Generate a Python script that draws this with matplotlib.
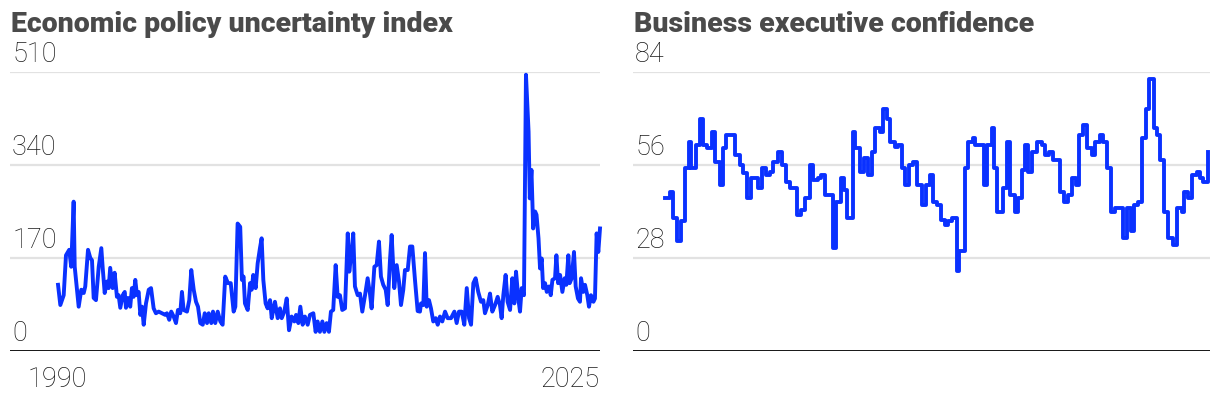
import matplotlib
matplotlib.use("Agg")
import matplotlib.pyplot as plt

# Economic policy uncertainty index (decimal year, value)
epu_years = [
    1990.07, 1990.22, 1990.44, 1990.59, 1990.80, 1990.93, 1991.09, 1991.16, 1991.31, 1991.42,
    1991.59, 1991.75, 1991.85, 1992.03, 1992.18, 1992.29, 1992.40, 1992.55, 1992.73, 1992.90,
    1992.99, 1993.12, 1993.27, 1993.38, 1993.48, 1993.64, 1993.77, 1993.92, 1994.03, 1994.14,
    1994.30, 1994.43, 1994.51, 1994.64, 1994.79, 1994.90, 1995.01, 1995.12, 1995.23, 1995.34,
    1995.45, 1995.56, 1995.67, 1995.82, 1996.00, 1996.15, 1996.32, 1996.47, 1996.65, 1996.86,
    1997.08, 1997.19, 1997.34, 1997.47, 1997.63, 1997.78, 1997.91, 1998.06, 1998.17, 1998.28,
    1998.50, 1998.65, 1998.78, 1998.94, 1999.09, 1999.22, 1999.37, 1999.53, 1999.66, 1999.81,
    1999.92, 2000.09, 2000.20, 2000.35, 2000.51, 2000.68, 2000.83, 2001.00, 2001.18, 2001.36,
    2001.55, 2001.66, 2001.81, 2001.98, 2002.09, 2002.20, 2002.29, 2002.47, 2002.62, 2002.73,
    2002.83, 2002.99, 2003.12, 2003.27, 2003.38, 2003.49, 2003.64, 2003.77, 2003.93, 2004.04,
    2004.14, 2004.25, 2004.43, 2004.58, 2004.69, 2004.86, 2005.02, 2005.17, 2005.34, 2005.52,
    2005.63, 2005.78, 2005.91, 2006.06, 2006.21, 2006.39, 2006.54, 2006.76, 2006.91, 2007.04,
    2007.19, 2007.35, 2007.48, 2007.63, 2007.78, 2007.91, 2008.06, 2008.22, 2008.35, 2008.50,
    2008.65, 2008.83, 2009.01, 2009.11, 2009.27, 2009.37, 2009.48, 2009.66, 2009.81, 2009.96,
    2010.14, 2010.31, 2010.46, 2010.57, 2010.75, 2010.90, 2011.05, 2011.18, 2011.33, 2011.49,
    2011.62, 2011.77, 2011.88, 2012.05, 2012.21, 2012.36, 2012.49, 2012.64, 2012.75, 2012.93,
    2013.08, 2013.23, 2013.41, 2013.58, 2013.73, 2013.80, 2013.95, 2014.06, 2014.17, 2014.32,
    2014.45, 2014.60, 2014.76, 2014.89, 2015.04, 2015.19, 2015.37, 2015.54, 2015.76, 2015.98,
    2016.13, 2016.28, 2016.46, 2016.63, 2016.79, 2016.94, 2017.07, 2017.22, 2017.37, 2017.54,
    2017.72, 2017.87, 2017.98, 2018.16, 2018.31, 2018.46, 2018.64, 2018.81, 2018.96, 2019.07,
    2019.18, 2019.33, 2019.46, 2019.62, 2019.77, 2019.90, 2020.01, 2020.16, 2020.27, 2020.38,
    2020.53, 2020.66, 2020.83, 2020.91, 2021.02, 2021.13, 2021.26, 2021.35, 2021.48, 2021.58,
    2021.69, 2021.78, 2021.91, 2022.02, 2022.17, 2022.28, 2022.39, 2022.56, 2022.65, 2022.76,
    2022.89, 2023.04, 2023.19, 2023.30, 2023.43, 2023.52, 2023.65, 2023.80, 2023.91, 2024.06,
    2024.19, 2024.26, 2024.41, 2024.52, 2024.67, 2024.78, 2024.91, 2025.07, 2025.17, 2025.28,
    2025.39, 2025.50,
]
epu_values = [
    121, 84, 102, 175, 185, 154, 273, 154, 112, 81,
    112, 106, 118, 185, 170, 166, 97, 93, 154, 188,
    152, 106, 127, 115, 152, 115, 143, 99, 102, 79,
    102, 108, 79, 97, 81, 115, 99, 130, 102, 108,
    66, 81, 48, 87, 112, 115, 78, 69, 72, 69,
    66, 69, 57, 72, 63, 51, 75, 69, 108, 75,
    72, 93, 148, 112, 90, 81, 51, 48, 69, 51,
    69, 51, 72, 51, 72, 54, 48, 136, 124, 124,
    72, 81, 233, 227, 130, 136, 87, 75, 124, 112,
    139, 115, 160, 188, 206, 130, 87, 78, 93, 60,
    75, 90, 60, 78, 60, 72, 96, 38, 63, 54,
    66, 51, 81, 48, 63, 48, 66, 69, 35, 54,
    35, 54, 35, 51, 35, 72, 75, 157, 99, 102,
    75, 78, 215, 145, 185, 215, 118, 102, 105, 72,
    102, 133, 105, 78, 154, 157, 200, 136, 121, 112,
    84, 166, 212, 115, 157, 127, 84, 112, 148, 148,
    191, 191, 128, 73, 72, 87, 84, 179, 81, 93,
    78, 54, 60, 48, 63, 54, 72, 60, 60, 72,
    51, 72, 72, 48, 115, 60, 48, 124, 133, 108,
    90, 93, 69, 84, 105, 72, 84, 99, 84, 60,
    102, 139, 90, 75, 133, 87, 145, 96, 72, 115,
    102, 505, 401, 279, 331, 224, 255, 249, 206, 151,
    169, 115, 124, 108, 118, 102, 130, 133, 175, 124,
    139, 108, 133, 121, 175, 124, 133, 181, 118, 96,
    90, 133, 108, 121, 102, 81, 102, 90, 96, 215,
    181, 224,
]

# Business executive confidence, step levels (start year, value)
bec_years = [
    1990.02, 1990.31, 1990.52, 1990.80, 1991.03, 1991.29, 1991.55, 1991.72, 1992.05, 1992.27,
    1992.48, 1992.77, 1993.07, 1993.29, 1993.58, 1993.79, 1994.01, 1994.56, 1994.88, 1995.10,
    1995.38, 1995.64, 1996.08, 1996.34, 1996.62, 1996.85, 1997.06, 1997.39, 1997.65, 1997.93,
    1998.15, 1998.65, 1998.91, 1999.13, 1999.46, 1999.68, 2000.00, 2000.22, 2000.44, 2000.98,
    2001.20, 2001.49, 2001.70, 2001.92, 2002.27, 2002.42, 2002.75, 2003.01, 2003.29, 2003.51,
    2003.73, 2004.06, 2004.24, 2004.50, 2004.71, 2005.04, 2005.25, 2005.48, 2005.69, 2005.97,
    2006.24, 2006.50, 2006.78, 2007.06, 2007.33, 2007.50, 2007.80, 2008.03, 2008.31, 2008.52,
    2008.74, 2009.07, 2009.24, 2009.61, 2009.83, 2010.16, 2010.27, 2010.86, 2011.03, 2011.36,
    2011.51, 2011.69, 2012.08, 2012.34, 2012.56, 2012.88, 2013.10, 2013.32, 2013.54, 2013.76,
    2013.98, 2014.30, 2014.63, 2014.85, 2015.13, 2015.39, 2015.83, 2016.09, 2016.37, 2016.59,
    2016.87, 2017.09, 2017.35, 2017.57, 2017.90, 2018.11, 2018.44, 2018.66, 2018.88, 2019.16,
    2019.42, 2019.96, 2020.22, 2020.45, 2020.66, 2020.94, 2021.17, 2021.45, 2021.66, 2021.97,
    2022.19, 2022.36, 2022.62, 2022.91, 2023.23, 2023.46, 2023.78, 2023.93, 2024.21, 2024.43,
    2024.76, 2024.98, 2025.19, 2025.52,
]
bec_values = [
    46, 48, 40, 33, 39, 55, 63, 55, 62, 70,
    62, 61, 66, 57, 50, 61, 65, 59, 56, 53.5,
    46, 52, 49, 55, 53, 54, 57, 60, 56, 51,
    49, 41, 42.5, 46, 56, 51.5, 52, 53, 47, 31,
    45, 52, 48.5, 40, 66, 61, 54, 58, 53, 60,
    67, 66, 73, 70, 63, 61.5, 62, 55, 50, 56,
    57, 50, 44, 50, 53, 45, 44, 39.4, 38, 39,
    40, 24, 30, 55, 63, 64, 62, 50, 62, 67,
    55, 42, 49, 63, 47, 42, 46, 54.5, 62, 54,
    60, 63, 62, 59, 60, 57.5, 48, 45, 47, 52,
    50, 65, 68, 61, 59, 63, 65, 63, 55, 42,
    43, 34, 43, 36, 44, 45, 64, 73, 82, 67,
    65, 57.5, 42, 34, 32, 43, 42, 48, 46, 53,
    54, 52, 51, 60,
]

epu_ticks = [0, 170, 340, 510]
bec_ticks = [0, 28, 56, 84]
x_labels = ["1990", "2025"]

LINE = "#0a31ff"
GRID = "#e2e2e2"
TITLE_C = "#4a4a4a"
TEXT_C = "#1a1a1a"
NUM_FONT = dict(family=["Roboto", "DejaVu Sans"], weight="light", size=19.5)

fig = plt.figure(figsize=(12.2, 3.98), dpi=100)


def setup_panel(ax, ticks, title, title_x):
    ax.set_ylim(ticks[0], ticks[-1])
    for s in ax.spines.values():
        s.set_visible(False)
    ax.tick_params(left=False, bottom=False, labelleft=False, labelbottom=False)
    for t in ticks[1:]:
        ax.axhline(t, color=GRID, lw=1.6, zorder=0)
    ax.axhline(ticks[0], color="black", lw=2.0, zorder=3)
    tr = ax.get_yaxis_transform()
    for t in ticks:
        ax.annotate(str(t), xy=(0, t), xycoords=tr, xytext=(1.5, 3),
                    textcoords="offset points", ha="left", va="bottom",
                    color=TEXT_C, **NUM_FONT)
    fig.text(title_x, 1 - 32 / 398, title, ha="left", va="baseline",
             color=TITLE_C, family=["Roboto", "DejaVu Sans"], weight="black",
             size=20.5)


# left: economic policy uncertainty
ax1 = fig.add_axes([10 / 1220, 47 / 398, 590 / 1220, 279 / 398])
ax1.plot(epu_years, epu_values, color=LINE, lw=2.8, solid_joinstyle="round",
         clip_on=False, zorder=2)
ax1.set_xlim(1986.93, 2025.5)
setup_panel(ax1, epu_ticks, "Economic policy uncertainty index", 11 / 1220)
ax1.text(1990, -0.055, x_labels[0], transform=ax1.get_xaxis_transform(),
         ha="center", va="top", color=TEXT_C, **NUM_FONT)
ax1.text(1.0, -0.055, x_labels[1], transform=ax1.transAxes,
         ha="right", va="top", color=TEXT_C, **NUM_FONT)

# right: business executive confidence
ax2 = fig.add_axes([633 / 1220, 47 / 398, 577 / 1220, 279 / 398])
ax2.plot(bec_years, bec_values, color=LINE, lw=2.8, drawstyle="steps-post",
         solid_joinstyle="round", clip_on=False, zorder=2)
ax2.set_xlim(1987.91, 2025.63)
setup_panel(ax2, bec_ticks, "Business executive confidence", 634 / 1220)

fig.savefig("out.png", dpi=100)
